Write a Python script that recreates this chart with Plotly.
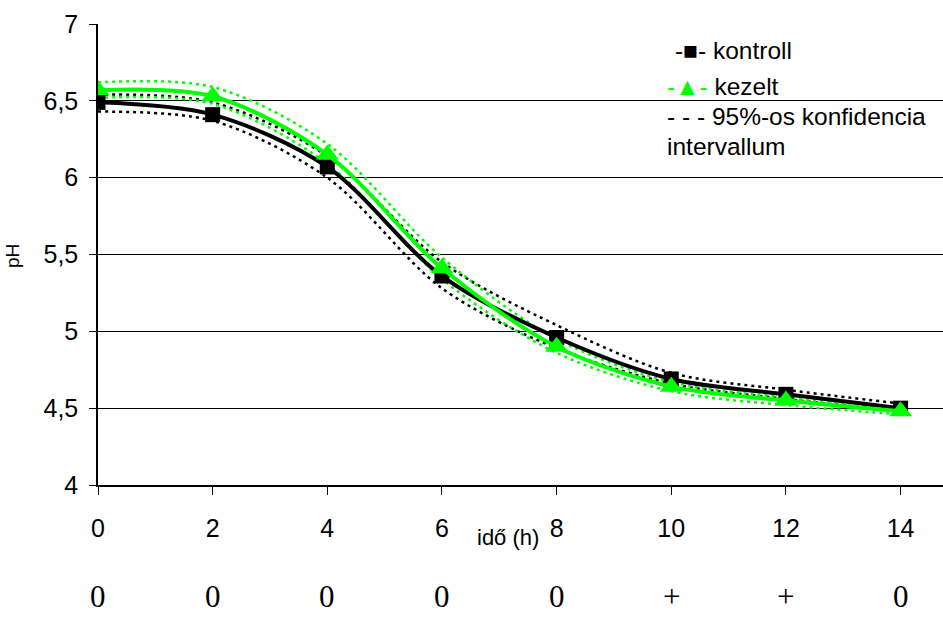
import plotly.graph_objects as go

# ---- data ----
ido = [0, 2, 4, 6, 8, 10, 12, 14]
kontroll = [6.49, 6.41, 6.07, 5.36, 4.96, 4.69, 4.59, 4.50]
kezelt = [6.57, 6.53, 6.15, 5.41, 4.90, 4.64, 4.55, 4.48]
kontroll_upper = [6.54, 6.49, 6.14, 5.45, 5.04, 4.73, 4.62, 4.53]
kontroll_lower = [6.43, 6.37, 6.00, 5.28, 4.89, 4.66, 4.56, 4.48]
kezelt_upper = [6.62, 6.59, 6.22, 5.48, 4.95, 4.67, 4.57, 4.50]
kezelt_lower = [6.52, 6.48, 6.09, 5.34, 4.86, 4.61, 4.52, 4.46]
also_cimkek = ["0", "0", "0", "0", "0", "+", "+", "0"]
y_ticks = [4, 4.5, 5, 5.5, 6, 6.5, 7]
y_ticktext = ["4", "4,5", "5", "5,5", "6", "6,5", "7"]

BLACK = "#000000"
GREEN = "#00ff00"
W, H = 943, 632
ML, MT, MB, MR = 98, 24, 147, 0
PW, PH = W - ML - MR, H - MT - MB

def px_x(px):
    return (px - ML) / PW

def px_y(py):
    return (H - MB - py) / PH

fig = go.Figure()

for vals, col in [(kontroll_upper, BLACK), (kontroll_lower, BLACK),
                  (kezelt_upper, GREEN), (kezelt_lower, GREEN)]:
    fig.add_trace(go.Scatter(x=ido, y=vals, mode="lines",
                             line=dict(color=col, width=2.5, dash="3px,4px", shape="spline", smoothing=0.9),
                             showlegend=False, hoverinfo="skip"))

fig.add_trace(go.Scatter(x=ido, y=kontroll, mode="lines+markers", name="kontroll",
                         line=dict(color=BLACK, width=4, shape="spline", smoothing=0.9),
                         marker=dict(symbol="square", size=15, color=BLACK),
                         showlegend=False))
fig.add_trace(go.Scatter(x=ido, y=kezelt, mode="lines+markers", name="kezelt",
                         line=dict(color=GREEN, width=4, shape="spline", smoothing=0.9),
                         marker=dict(symbol="triangle-up", size=20, color=GREEN),
                         showlegend=False))

FONT = "Liberation Sans, Arial, sans-serif"
annotations = []
# legend (text-based, as in the original)
leg = [
    (673, 51, "-■- kontroll"),
    (665, 86, "<span style='color:#00ff00'>-▲-</span> kezelt"),
    (665, 117, "- - - 95%-os konfidencia"),
    (665, 146, "intervallum"),
]
for px, py, t in leg:
    annotations.append(dict(x=px_x(px), y=px_y(py), xref="paper", yref="paper",
                            text=t, showarrow=False, xanchor="left", yanchor="middle",
                            font=dict(family=FONT, size=24.5, color=BLACK)))
# bottom row labels
for xv, t in zip(ido, also_cimkek):
    annotations.append(dict(x=xv, y=px_y(596), xref="x", yref="paper", text=t,
                            showarrow=False, xanchor="center", yanchor="middle",
                            font=dict(family="Liberation Serif, Times New Roman, serif", size=31, color=BLACK)))
# axis titles
annotations.append(dict(x=px_x(508), y=px_y(537), xref="paper", yref="paper", text="idő (h)",
                        showarrow=False, xanchor="center", yanchor="middle",
                        font=dict(family=FONT, size=22, color=BLACK)))
annotations.append(dict(x=px_x(13), y=px_y(256), xref="paper", yref="paper", text="pH",
                        showarrow=False, xanchor="center", yanchor="middle", textangle=-90,
                        font=dict(family=FONT, size=19, color=BLACK)))

fig.update_layout(
    width=W, height=H,
    margin=dict(l=ML, r=MR, t=MT, b=MB),
    paper_bgcolor="white", plot_bgcolor="white",
    showlegend=False,
    annotations=annotations,
    xaxis=dict(range=[0, 14.74], tickvals=ido, ticktext=[str(v) for v in ido],
               showgrid=False, zeroline=False, showline=True, linecolor=BLACK, linewidth=1.5,
               ticks="outside", ticklen=8, tickcolor=BLACK,
               tickfont=dict(family=FONT, size=25, color=BLACK), ticklabelstandoff=12),
    yaxis=dict(range=[4, 7], tickvals=y_ticks, ticktext=y_ticktext,
               showgrid=True, gridcolor=BLACK, gridwidth=1.3, zeroline=False,
               showline=True, linecolor=BLACK, linewidth=1.5,
               ticks="outside", ticklen=7, tickcolor=BLACK,
               tickfont=dict(family=FONT, size=25, color=BLACK), ticklabelstandoff=6),
)

fig.write_html("out.html")
